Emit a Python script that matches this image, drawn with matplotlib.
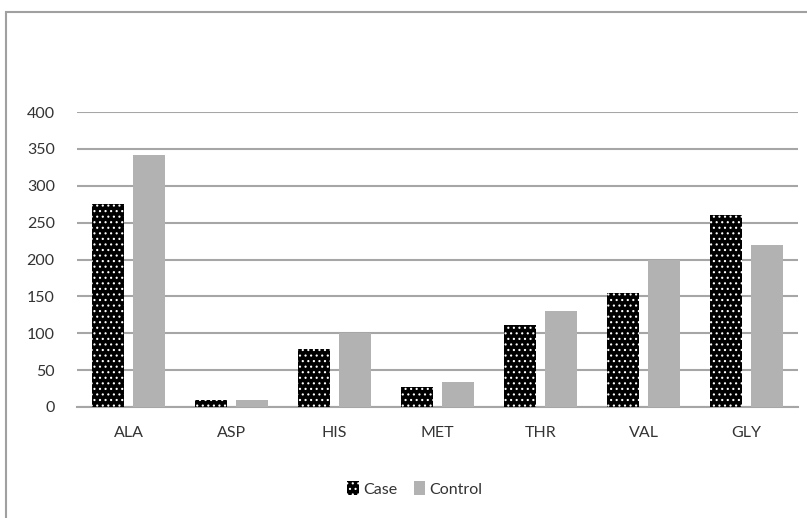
import matplotlib
matplotlib.use('Agg')
from matplotlib import pyplot as plt
from matplotlib.patches import Rectangle
import numpy as np

# data
amino = ['ALA', 'ASP', 'HIS', 'MET', 'THR', 'VAL', 'GLY']
case_vals = [275, 10, 78, 27, 111, 155, 261]
control_vals = [342, 10, 100, 34, 130, 200, 220]
yticks = [0, 50, 100, 150, 200, 250, 300, 350, 400]

plt.rcParams['font.family'] = ['Lato', 'DejaVu Sans']
plt.rcParams['hatch.linewidth'] = 0.8

W, H = 807, 518
fig = plt.figure(figsize=(W / 100, H / 100), dpi=100)

# outer chart frame (gray border, open to right/bottom as in the crop)
fig.patches.append(Rectangle((6 / W, -0.1), 1.2, (H - 12) / H + 0.1,
                             transform=fig.transFigure, fill=False,
                             edgecolor='#a0a0a0', linewidth=1.5))

ax = fig.add_axes([77 / W, (H - 407) / H, (798 - 77) / W, (407 - 112) / H])

x = np.arange(len(amino))
bw = 0.31
off = 0.195
ax.bar(x - off, case_vals, width=bw, color='black', edgecolor='white',
       linewidth=0, hatch='...', label='Case', zorder=3)
ax.bar(x + off, control_vals, width=bw, color='#b2b2b2', linewidth=0,
       label='Control', zorder=3)

ax.set_xlim(-0.5, len(amino) - 0.5)
ax.set_ylim(0, 400)
ax.set_yticks(yticks)
ax.set_xticks(x)
ax.set_xticklabels(amino)
ax.yaxis.grid(True, color='#a6a6a6', linewidth=1.5, zorder=0)
ax.set_axisbelow(True)
for s in ['top', 'right', 'left']:
    ax.spines[s].set_visible(False)
ax.spines['bottom'].set_color('#a6a6a6')
ax.spines['bottom'].set_linewidth(1.5)
ax.tick_params(axis='both', length=0, labelsize=11.5, colors='#333333')
ax.tick_params(axis='y', pad=16)
ax.tick_params(axis='x', pad=14)

fig.legend(loc='center', bbox_to_anchor=(415 / W, 1 - 489 / H), ncol=2,
           frameon=False, fontsize=11.5, handlelength=0.7, handleheight=0.9,
           handletextpad=0.3, columnspacing=1.0, labelcolor='#333333')

plt.savefig('out.png', dpi=100)
